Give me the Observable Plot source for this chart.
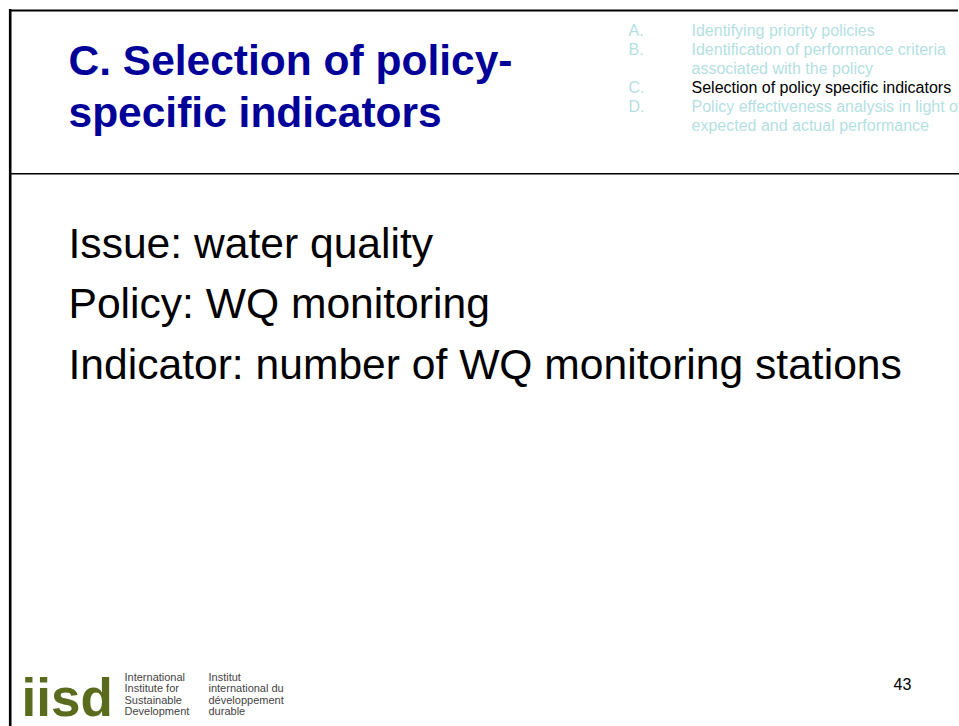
<!DOCTYPE html>
<html>
<head>
<meta charset="utf-8">
<script src="https://cdn.jsdelivr.net/npm/d3@7"></script>
<script src="https://cdn.jsdelivr.net/npm/@observablehq/plot@0.6"></script>
<style>
  html, body { margin: 0; padding: 0; background: #ffffff; }
  #chart svg { display: block; }
</style>
</head>
<body>
<div id="chart"></div>
<script>
// ---- content ----
const titleLines = ["C. Selection of policy-", "specific indicators"];
const bodyLines = ["Issue: water quality", "Policy: WQ monitoring", "Indicator: number of WQ monitoring stations"];
const menuLetters = ["A.", "B.", "C.", "D."];
const menuItems = [
  ["Identifying priority policies"],
  ["Identification of performance criteria", "associated with the policy"],
  ["Selection of policy specific indicators"],
  ["Policy effectiveness analysis in light of", "expected and actual performance"]
];
const activeLetter = "C.";
const logoWordmark = ["iisd"];
const logoEnglish = ["International", "Institute for", "Sustainable", "Development"];
const logoFrench = ["Institut", "international du", "développement", "durable"];
const pageNumber = ["43"];

// ---- layout ----
const W = 959, H = 726;
const FONT = "'Liberation Sans', Arial, Helvetica, sans-serif";
const menuRowStart = 35.5, menuRowStep = 18.9;

// flatten menu into rows
const menuRows = [];
menuItems.forEach((lines, i) => {
  lines.forEach((t, j) => {
    menuRows.push({letter: j === 0 ? menuLetters[i] : null, text: t, active: menuLetters[i] === activeLetter, row: menuRows.length});
  });
});

const chart = Plot.plot({
  width: W,
  height: H,
  margin: 0,
  x: {domain: [0, W], range: [0, W], axis: null},
  y: {domain: [0, H], range: [0, H], axis: null},
  style: {background: "#ffffff"},
  marks: [
    // frame lines
    Plot.ruleY([10], {x1: 9, x2: 958, stroke: "#000", strokeWidth: 2.2}),
    Plot.ruleX([9.7], {y1: 9, y2: H, stroke: "#000", strokeWidth: 2.6}),
    Plot.ruleY([173.3], {x1: 9, x2: W, stroke: "#000", strokeWidth: 1.4}),
    // title
    Plot.text(titleLines, {
      x: () => 68, y: (d, i) => 74 + i * 52, text: d => d,
      textAnchor: "start", lineAnchor: "bottom",
      fontFamily: FONT, fontWeight: "bold", fontSize: 42.5, fill: "#000099"
    }),
    // menu letters
    Plot.text(menuRows.filter(r => r.letter), {
      x: () => 628, y: r => menuRowStart + r.row * menuRowStep, text: "letter",
      textAnchor: "start", lineAnchor: "bottom",
      fontFamily: FONT, fontSize: 16, fill: "#b4dfe2"
    }),
    // menu texts
    Plot.text(menuRows, {
      x: () => 691, y: r => menuRowStart + r.row * menuRowStep, text: "text",
      textAnchor: "start", lineAnchor: "bottom",
      fontFamily: FONT, fontSize: 16, fill: r => r.active ? "#000000" : "#b4dfe2"
    }),
    // body
    Plot.text(bodyLines, {
      x: () => 68, y: (d, i) => 257 + i * 60.5, text: d => d,
      textAnchor: "start", lineAnchor: "bottom",
      fontFamily: FONT, fontSize: 42.6, fill: "#000"
    }),
    // logo wordmark
    Plot.text(logoWordmark, {
      x: () => 21, y: () => 715, text: d => d,
      textAnchor: "start", lineAnchor: "bottom",
      fontFamily: FONT, fontWeight: "bold", fontSize: 53, fill: "#5b6b1e"
    }),
    Plot.text(logoEnglish, {
      x: () => 124, y: (d, i) => 680 + i * 11.5, text: d => d,
      textAnchor: "start", lineAnchor: "bottom",
      fontFamily: FONT, fontSize: 11, fill: "#444"
    }),
    Plot.text(logoFrench, {
      x: () => 208, y: (d, i) => 680 + i * 11.5, text: d => d,
      textAnchor: "start", lineAnchor: "bottom",
      fontFamily: FONT, fontSize: 11, fill: "#444"
    }),
    // page number
    Plot.text(pageNumber, {
      x: () => 893, y: () => 689, text: d => d,
      textAnchor: "start", lineAnchor: "bottom",
      fontFamily: FONT, fontSize: 16, fill: "#000"
    })
  ]
});
document.getElementById("chart").appendChild(chart);
</script>
</body>
</html>
